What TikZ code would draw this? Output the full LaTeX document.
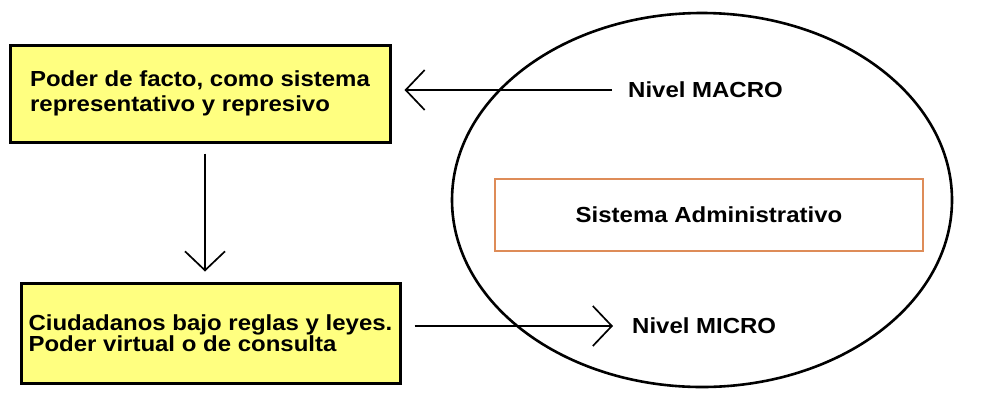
\documentclass[tikz,border=0pt]{standalone}
\usepackage{fontspec}
\setmainfont{Liberation Sans}[FakeStretch=1.1]
\usetikzlibrary{arrows.meta,shapes.geometric}
\definecolor{boxyellow}{RGB}{255,255,128}
\definecolor{admorange}{RGB}{222,140,88}
\tikzset{
  yellowbox/.style={draw=black, line width=3pt, fill=boxyellow, align=left,
    inner sep=0pt, font=\fontsize{21.8}{23.5}\selectfont\bfseries},
  lbl/.style={inner sep=0pt, font=\fontsize{21.8}{24}\selectfont\bfseries},
  arr/.style={draw=black, line width=1.7pt, -{Straight Barb[length=19pt,width=40pt,line width=1.7pt]}},
}
\begin{document}
\begin{tikzpicture}[x=1pt,y=-1pt]
\useasboundingbox[fill=white] (0,0) rectangle (987,392);
% ellipse
\node[ellipse, draw=black, line width=2.6pt, minimum width=500pt, minimum height=374pt,
  inner sep=0pt, outer sep=0pt] (sys) at (702,200) {};
% admin box
\node[draw=admorange, line width=2.4pt, minimum width=428pt, minimum height=72pt,
  inner sep=0pt, lbl] (adm) at (709,215) {Sistema Administrativo};
% yellow boxes
\node[yellowbox, minimum width=380pt, minimum height=97pt] (top) at (200,93.5)
  {Poder de facto, como sistema\\[1pt]representativo y represivo};
\node[yellowbox, minimum width=379pt, minimum height=100pt] (bot) at (210.5,333)
  {Ciudadanos bajo reglas y leyes.\\[-2pt]Poder virtual o de consulta};
% level labels
\node[lbl, anchor=west] (macro) at (628,90) {Nivel MACRO};
\node[lbl, anchor=west] (micro) at (632,326) {Nivel MICRO};
% connectors
\draw[arr, shorten <=16pt, shorten >=13pt] (macro.west) -- (macro.west -| top.east);
\draw[arr, shorten <=10pt, shorten >=10pt] ([xshift=5pt]top.south) -- ([xshift=5pt]top.south |- bot.north);
\draw[arr, shorten <=13pt, shorten >=19pt] (bot.east |- micro.west) -- (micro.west);
\end{tikzpicture}
\end{document}
